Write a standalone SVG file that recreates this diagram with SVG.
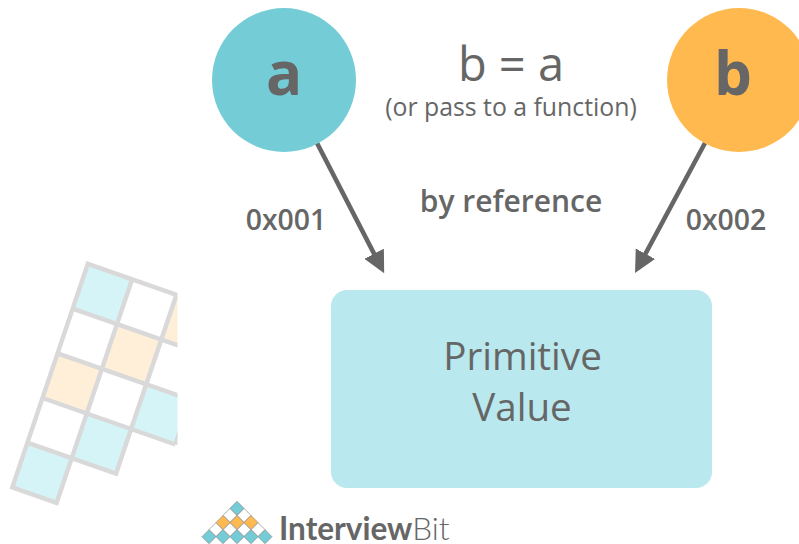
<svg xmlns="http://www.w3.org/2000/svg" width="799" height="544" viewBox="0 0 799 544">
<style>
text{font-family:"Open Sans","Noto Sans","Liberation Sans",sans-serif;fill:#666;text-anchor:middle}
.g{stroke:#d9d9d9;stroke-width:4.5;stroke-linecap:butt;fill:none}
.c{stroke:#666;stroke-width:4.6;fill:none}
.t{fill:#74ccd7;stroke:#8c8c8c;stroke-width:.7}
.o{fill:#ffb94f;stroke:#8c8c8c;stroke-width:.7}
.w{fill:#fff;stroke:#8c8c8c;stroke-width:.7}
.lg{font-family:Lato,"Open Sans",sans-serif;text-anchor:start}
</style>
<defs>
<clipPath id="cp"><rect x="0" y="250" width="177" height="260"/></clipPath>
<marker id="ah" markerUnits="userSpaceOnUse" markerWidth="26" markerHeight="26" refX="2" refY="11" orient="auto"><path d="M0 0L22 11L0 22Z" fill="#666"/></marker>
<path id="dm" d="M0 -7L7 0L0 7L-7 0Z"/>
</defs>
<rect width="799" height="544" fill="#fff"/>
<g id="grid" clip-path="url(#cp)" transform="translate(0.5 1.2)">
<path d="M87.300 262.700L131.600 278.200L116.500 322.900L72.200 307.400Z" fill="#d5f4f7"/>
<path d="M175.900 293.700L220.200 309.200L205.100 353.900L160.800 338.400Z" fill="#ffeed8"/>
<path d="M116.500 322.900L160.800 338.400L145.700 383.100L101.400 367.600Z" fill="#ffeed8"/>
<path d="M57.100 352.100L101.400 367.600L86.300 412.300L42 396.800Z" fill="#ffeed8"/>
<path d="M145.700 383.100L190 398.600L174.900 443.300L130.600 427.800Z" fill="#d5f4f7"/>
<path d="M86.300 412.300L130.600 427.800L115.500 472.500L71.200 457Z" fill="#d5f4f7"/>
<path d="M26.900 441.500L71.200 457L56.100 501.700L11.800 486.200Z" fill="#d5f4f7"/>
<path class="g" d="M85.200 262L220.200 309.200M72.200 307.400L205.100 353.900M57.100 352.100L190 398.600M42 396.800L174.900 443.300M26.900 441.500L117.600 473.200M9.700 485.500L58.200 502.400M87.300 262.700L11.800 486.200M131.600 278.200L56.100 501.700M175.900 293.700L115.500 472.500M220.200 309.200L174.900 443.300"/>
</g>
<g id="connectors">
<line class="c" x1="317" y1="143" x2="375" y2="255.500" marker-end="url(#ah)"/>
<line class="c" x1="705" y1="143" x2="644.500" y2="255.500" marker-end="url(#ah)"/>
</g>
<g id="node-a"><circle cx="284" cy="80" r="72" fill="#74ccd7"/><text x="284" y="95" font-size="60" font-weight="700">a</text></g>
<g id="node-b"><circle cx="739" cy="80" r="72" fill="#ffb94f"/><text x="733" y="95" font-size="60" font-weight="700">b</text></g>
<g id="node-value"><rect x="331" y="290" width="381" height="198" rx="16" fill="#b9e9ee"/><text x="522.500" y="370" font-size="38.600">Primitive</text><text x="522" y="421" font-size="38.600">Value</text></g>
<g id="labels">
<text x="511" y="81" font-size="47">b = a</text>
<text x="511" y="116" font-size="24.800">(or pass to a function)</text>
<text x="511" y="212" font-size="30" font-weight="600">by reference</text>
<text x="286" y="230" font-size="28.400" font-weight="600">0x001</text>
<text x="726" y="230" font-size="28.400" font-weight="600">0x002</text>
</g>
<g id="logo">
<use href="#dm" class="w" x="230" y="515.400"/><use href="#dm" class="w" x="244" y="515.400"/>
<use href="#dm" class="w" x="216" y="529.600"/><use href="#dm" class="w" x="230" y="529.600"/><use href="#dm" class="w" x="244" y="529.600"/><use href="#dm" class="w" x="258" y="529.600"/>
<use href="#dm" class="t" x="237" y="508.300"/>
<use href="#dm" class="o" x="223" y="522.500"/><use href="#dm" class="o" x="237" y="522.500"/><use href="#dm" class="o" x="251" y="522.500"/>
<use href="#dm" class="t" x="209" y="536.700"/><use href="#dm" class="t" x="223" y="536.700"/><use href="#dm" class="t" x="237" y="536.700"/><use href="#dm" class="t" x="251" y="536.700"/><use href="#dm" class="t" x="265" y="536.700"/>
<text class="lg" x="279" y="540" font-size="31.500" font-weight="700">Interview<tspan font-weight="300">Bit</tspan></text>
</g>
</svg>
